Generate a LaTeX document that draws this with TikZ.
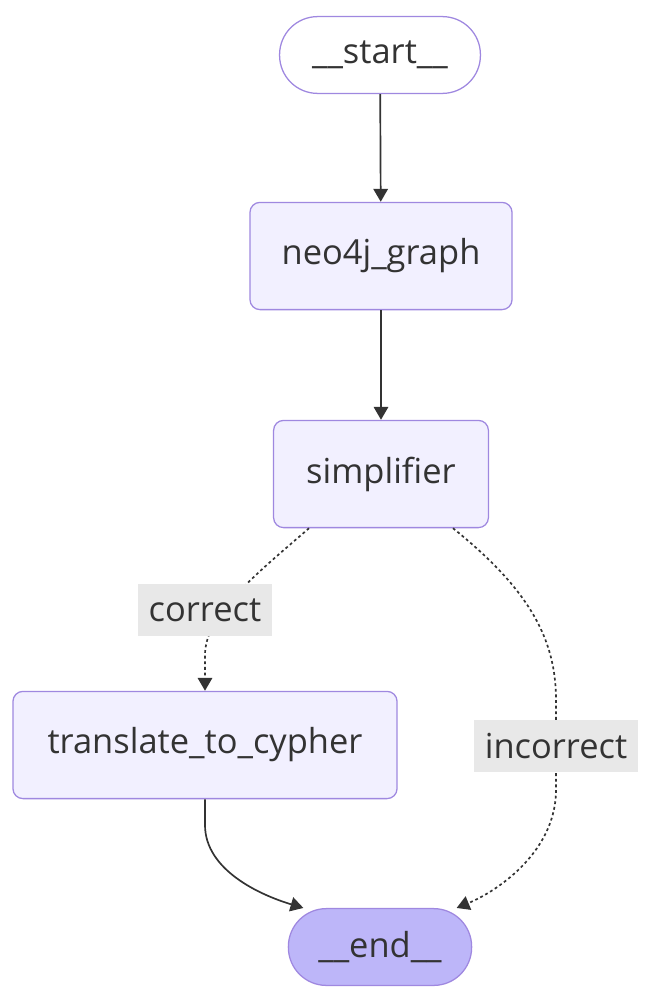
\documentclass[tikz,border=0pt]{standalone}
\usepackage{fontspec}
\setmainfont{Open Sans}
\usetikzlibrary{arrows.meta}

\definecolor{boxfill}{HTML}{F2F0FF}
\definecolor{boxline}{HTML}{9F88E0}
\definecolor{endfill}{HTML}{BDB6F9}
\definecolor{ink}{HTML}{333333}
\definecolor{labelbg}{HTML}{E8E8E8}

\begin{document}
\begin{tikzpicture}[x=0.025cm, y=-0.025cm,
    box/.style={draw=boxline, line width=0.9pt, fill=boxfill, rounded corners=0.25cm,
        minimum height=2.68cm, text=ink, font=\fontsize{24.5}{28}\selectfont},
    pill/.style={box, rounded corners=0.95cm, minimum height=1.92cm},
    flow/.style={draw=ink, line width=1.2pt, -{Triangle[length=0.32cm, width=0.36cm]}},
    maybe/.style={flow, dash pattern=on 2pt off 2pt},
    tag/.style={fill=labelbg, text=ink, inner sep=0pt, minimum height=1.3cm,
        font=\fontsize{24.5}{28}\selectfont}]
    % Fix the canvas
    \useasboundingbox (0,0) rectangle (660,1006);

    % Nodes of the graph
    \node[pill, fill=white, minimum width=5.02cm] (start) at (380,55) {\_\_start\_\_};
    \node[box, minimum width=6.55cm] (neo) at (381,256) {neo4j\_graph};
    \node[box, minimum width=5.37cm] (simp) at (381,474) {simplifier};
    \node[box, minimum width=9.6cm] (trans) at (205,745) {translate\_to\_cypher};
    \node[pill, fill=endfill, minimum width=4.58cm] (end) at (380,947) {\_\_end\_\_};

    % Edges
    \draw[flow] (start) -- (neo);
    \draw[flow] (neo) -- (simp);
    \draw[maybe] (simp.217) .. controls (255,575) and (205,615) .. (205,655) -- (trans.north);
    \draw[maybe] (simp.323) .. controls (530,590) and (556,640) .. (556,700)
        -- (556,790) .. controls (556,850) and (500,890) .. (end.27);
    \draw[flow] (trans.south) -- (205,825) .. controls (205,870) and (260,895) .. (end.153);

    % Edge labels
    \node[tag, minimum width=3.35cm] (ok) at (205,610) {correct};
    \node[tag, minimum width=4.08cm] (bad) at (556,746) {incorrect};
\end{tikzpicture}
\end{document}
